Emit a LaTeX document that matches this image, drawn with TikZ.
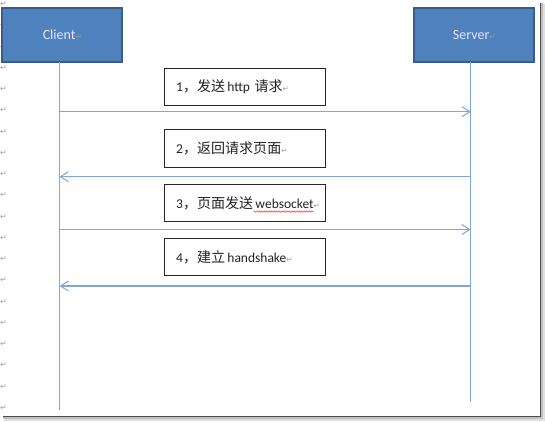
\documentclass[tikz,border=0pt]{standalone}
\usepackage{fontspec}
\setmainfont{Carlito}
\newfontfamily\cjk[Scale=1.04]{Noto Sans CJK SC}
\newfontfamily\symfnt{DejaVu Sans}
\usetikzlibrary{arrows.meta,decorations.pathmorphing}
\definecolor{boxblue}{HTML}{4F81BD}
\definecolor{boxedge}{HTML}{385D8A}
\definecolor{lifeblue}{RGB}{128,166,218}
\definecolor{txt}{RGB}{35,35,35}
\newcommand{\retmark}{{\symfnt\fontsize{7.5}{7.5}\selectfont\color{gray!75}↵}}
\hbadness=10000 \hfuzz=100pt
\begin{document}
\begin{tikzpicture}[x=1pt,y=-1pt,
  actor/.style={draw=boxedge, line width=1.8pt, fill=boxblue, minimum width=120pt, minimum height=54pt,
    text=white!90!blue, font=\fontsize{14}{16}\selectfont, inner sep=0pt},
  msgbox/.style={draw=black!85, line width=1pt, fill=white, minimum height=37.5pt, text width=137pt,
    inner xsep=12pt, inner ysep=0pt, align=left, text=txt, font=\fontsize{13.5}{15}\selectfont},
  lifeline/.style={draw=lifeblue, line width=1.3pt},
  msgarrow/.style={draw=lifeblue, line width=1.3pt, -{Straight Barb[length=8pt,width=10pt,line width=1pt]}},
  pmark/.style={inner sep=0pt, anchor=west, font=\symfnt\fontsize{8}{8}\selectfont, text=gray!75}
]
\useasboundingbox (0,0) rectangle (545,421);
% frame and shadow
\fill[white] (0,0) rectangle (541,417);
\fill[gray!25] (541,4) rectangle (545,421);
\fill[gray!25] (4,417) rectangle (545,421);
\fill[gray!50] (541,3) rectangle (543,419);
\fill[gray!50] (3,417) rectangle (543,419);
\draw[line width=1.2pt, black!70] (540.8,3) -- (540.8,416.8) -- (3,416.8);
% paragraph marks on the left margin
\foreach \k in {0,...,19} {
  \node[pmark] (pm\k) at (0,{4+21.26*\k}) {↵};
}
% actors
\node[actor] (client) at (62.3,34.8) {Client\retmark};
\node[actor] (server) at (474.3,34.8) {Server\retmark};
% lifelines
\coordinate (cend) at (59.5,410);
\coordinate (send) at (470.8,402);
\coordinate (ctop) at (59.5,62);
\coordinate (stop) at (470.8,62);
\draw[lifeline] (ctop) -- (cend);
\draw[lifeline] (stop) -- (send);
% message boxes
\node[msgbox] (m1) at (244.7,87) {\mbox{1{\cjk ，发送}\,http {\cjk 请求}\retmark}};
\node[msgbox] (m2) at (244.7,148.3) {\mbox{2{\cjk ，返回请求页面}\retmark}};
\node[msgbox] (m3) at (244.7,203) {\mbox{3{\cjk ，页面发送}\,websocket\retmark}};
\node[msgbox] (m4) at (244.7,257) {\mbox{4{\cjk ，建立}\,handshake\retmark}};
% spell-check underline
\coordinate (w1) at (253.5,211.5);
\coordinate (w2) at (313.5,211.5);
\draw[red!80, line width=0.5pt, decorate, decoration={snake, amplitude=0.7pt, segment length=2.5pt}] (w1) -- (w2);
% arrow end points on lifelines
\coordinate (c1) at (59.5,111.7);
\coordinate (s1) at (470.8,111.7);
\coordinate (c2) at (59.5,176.7);
\coordinate (s2) at (470.8,176.7);
\coordinate (c3) at (59.5,229.5);
\coordinate (s3) at (470.8,229.5);
\coordinate (c4) at (59.5,286);
\coordinate (s4) at (470.8,286);
\draw[msgarrow] (c1) -- (s1);
\draw[msgarrow] (s2) -- (c2);
\draw[msgarrow] (c3) -- (s3);
\draw[msgarrow] (s4) -- (c4);
\end{tikzpicture}
\end{document}
